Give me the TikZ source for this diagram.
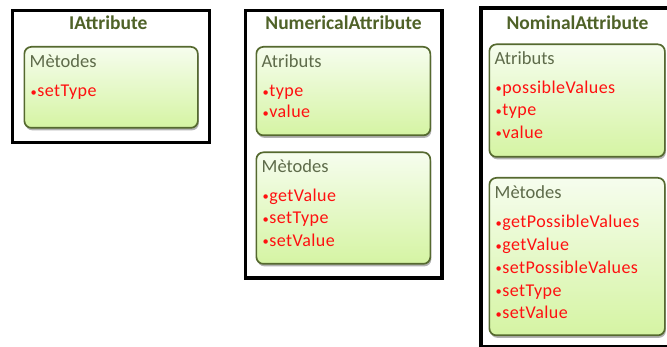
\documentclass[tikz,border=0pt]{standalone}
\usepackage{fontspec}
\setmainfont{Carlito}
\newfontfamily\memberfont[LetterSpace=2.5]{Carlito}
\usetikzlibrary{positioning,shadows}

\definecolor{titlegreen}{HTML}{4F6228}
\definecolor{headgray}{HTML}{5E6B4A}
\definecolor{itemred}{HTML}{FF1010}
\definecolor{paneltop}{HTML}{F6FDEE}
\definecolor{panelbot}{HTML}{D5F4A3}
\definecolor{panelline}{HTML}{55692F}

\newcommand{\dotmark}{{\fontsize{12.5}{12}\selectfont\raisebox{0.05em}{\textbullet}}\hspace{0.4pt}}

\begin{document}
\begin{tikzpicture}[
    x=1pt, y=-1pt,
    classbox/.style={draw=black, line width=3.5pt, fill=white, inner sep=0pt},
    panel/.style={draw=panelline, line width=1.7pt, rounded corners=7pt, top color=paneltop, bottom color=panelbot,
        drop shadow={shadow xshift=1pt, shadow yshift=-2.5pt, opacity=0.3, fill=black}, inner sep=0pt, anchor=north west},
    title/.style={font=\fontsize{19.5}{22}\selectfont\bfseries, text=titlegreen, anchor=base, inner sep=0pt},
    head/.style={font=\fontsize{18.5}{22}\selectfont, text=headgray, anchor=base west, inner sep=0pt},
    member/.style={font=\memberfont\fontsize{18}{22}\selectfont, text=itemred, anchor=base west, inner sep=0pt}
]
\useasboundingbox (0,0) rectangle (667,347);
\clip (0,0) rectangle (667,347);

% IAttribute
\node[classbox, minimum width=197pt, minimum height=132pt] (iattr) at (111,76.5) {};
\node[title] (iattrT) at (108.3,29.5) {IAttribute};
\node[panel, minimum width=173.5pt, minimum height=81pt] (iattrM) at (23.5,46) {};
\node[head] (iattrMh) at ([xshift=6pt,yshift=-21.5pt]iattrM.north west) {Mètodes};
\foreach \m [count=\i from 0] in {setType}
    \node[member] (iattrM-\i) at ([xshift=7pt,yshift={-51pt-22.5pt*\i}]iattrM.north west) {\dotmark\m};

% NumericalAttribute
\node[classbox, minimum width=196.5pt, minimum height=267.5pt] (numattr) at (343.75,144.25) {};
\node[title] (numattrT) at (343.5,29.5) {NumericalAttribute};
\node[panel, minimum width=174pt, minimum height=88.5pt] (numattrA) at (255.5,46) {};
\node[head] (numattrAh) at ([xshift=6pt,yshift=-21.5pt]numattrA.north west) {Atributs};
\foreach \m [count=\i from 0] in {type,value}
    \node[member] (numattrA-\i) at ([xshift=7pt,yshift={-51pt-21pt*\i}]numattrA.north west) {\dotmark\m};
\node[panel, minimum width=174pt, minimum height=111.5pt] (numattrM) at (255.5,151.5) {};
\node[head] (numattrMh) at ([xshift=6pt,yshift=-21.5pt]numattrM.north west) {Mètodes};
\foreach \m [count=\i from 0] in {getValue,setType,setValue}
    \node[member] (numattrM-\i) at ([xshift=7pt,yshift={-50pt-22.3pt*\i}]numattrM.north west) {\dotmark\m};

% NominalAttribute (runs past the right and bottom edges)
\node[classbox, minimum width=219pt, minimum height=338.5pt] (nomattr) at (590.5,177.25) {};
\node[title] (nomattrT) at (577.5,29.5) {NominalAttribute};
\node[panel, minimum width=175.5pt, minimum height=112.5pt] (nomattrA) at (488.5,43.5) {};
\node[head] (nomattrAh) at ([xshift=6pt,yshift=-21.5pt]nomattrA.north west) {Atributs};
\foreach \m [count=\i from 0] in {possibleValues,type,value}
    \node[member] (nomattrA-\i) at ([xshift=7pt,yshift={-50pt-22.5pt*\i}]nomattrA.north west) {\dotmark\m};
\node[panel, minimum width=175.5pt, minimum height=157.5pt] (nomattrM) at (488.5,177) {};
\node[head] (nomattrMh) at ([xshift=6pt,yshift=-21.5pt]nomattrM.north west) {Mètodes};
\foreach \m [count=\i from 0] in {getPossibleValues,getValue,setPossibleValues,setType,setValue}
    \node[member] (nomattrM-\i) at ([xshift=7pt,yshift={-51pt-22.75pt*\i}]nomattrM.north west) {\dotmark\m};
\end{tikzpicture}
\end{document}
